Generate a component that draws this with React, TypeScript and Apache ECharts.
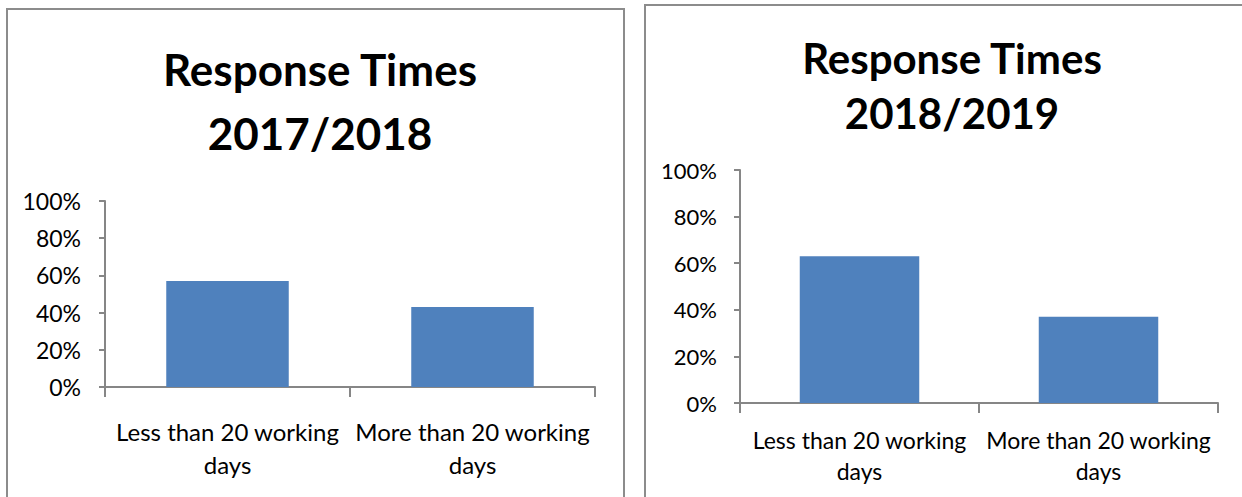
import React, { useEffect, useRef } from "react";
import * as echarts from "echarts";

const categories = ["Less than 20 working\ndays", "More than 20 working\ndays"];
const values2017 = [57, 43];
const values2018 = [63, 37];
const yTicks = { min: 0, max: 100, interval: 20 };
const titles = ["Response Times\n2017/2018", "Response Times\n2018/2019"];

const FONT = "Lato, 'Open Sans', sans-serif";
const AXIS = "#868686";
const BAR = "#4F81BD";

export default function App() {
  const ref = useRef<HTMLDivElement>(null);
  useEffect(() => {
    if (!ref.current) return;
    const chart = echarts.init(ref.current, undefined, { renderer: "svg" });
    const xAxis = (idx: number, fs: number, lh: number, margin: number) => ({
      type: "category",
      gridIndex: idx,
      data: categories,
      boundaryGap: true,
      axisLine: { lineStyle: { color: AXIS, width: 2 } },
      axisTick: { show: true, length: 10, lineStyle: { color: AXIS, width: 2 } },
      axisLabel: { color: "#000", fontFamily: FONT, fontSize: fs, lineHeight: lh, margin, interval: 0 },
      splitLine: { show: false },
    });
    const yAxis = (idx: number, fs: number, margin: number) => ({
      type: "value",
      gridIndex: idx,
      min: yTicks.min,
      max: yTicks.max,
      interval: yTicks.interval,
      axisLine: { show: true, lineStyle: { color: AXIS, width: 2 } },
      axisTick: { show: true, length: 6, lineStyle: { color: AXIS, width: 2 } },
      axisLabel: { color: "#000", fontFamily: FONT, fontSize: fs, margin, formatter: "{value}%" },
      splitLine: { show: false },
    });
    chart.setOption({
      animation: false,
      backgroundColor: "#fff",
      title: [
        {
          text: titles[0],
          left: 315,
          top: 32,
          textAlign: "center",
          textStyle: { fontFamily: FONT, fontSize: 44, fontWeight: "bold", lineHeight: 64, color: "#000" },
        },
        {
          text: titles[1],
          left: 947,
          top: 25,
          textAlign: "center",
          textStyle: { fontFamily: FONT, fontSize: 42, fontWeight: "bold", lineHeight: 55, color: "#000" },
        },
      ],
      graphic: [
        { type: "rect", shape: { x: 7, y: 9, width: 617, height: 600 }, style: { fill: "none", stroke: "#8c8c8c", lineWidth: 2 }, silent: true },
        { type: "rect", shape: { x: 645, y: 5, width: 700, height: 600 }, style: { fill: "none", stroke: "#8c8c8c", lineWidth: 2 }, silent: true },
      ],
      grid: [
        { left: 105, top: 201, width: 490, height: 186, containLabel: false },
        { left: 740, top: 170, width: 478, height: 233, containLabel: false },
      ],
      xAxis: [xAxis(0, 24, 33, 28), xAxis(1, 23, 31, 21)],
      yAxis: [yAxis(0, 23, 24), yAxis(1, 22, 23)],
      series: [
        { type: "bar", xAxisIndex: 0, yAxisIndex: 0, data: values2017, barWidth: "50%", itemStyle: { color: BAR } },
        { type: "bar", xAxisIndex: 1, yAxisIndex: 1, data: values2018, barWidth: "50%", itemStyle: { color: BAR } },
      ],
    });
    return () => chart.dispose();
  }, []);
  return <div ref={ref} style={{ position: "fixed", left: 0, top: 0, width: 1242, height: 497 }} />;
}
